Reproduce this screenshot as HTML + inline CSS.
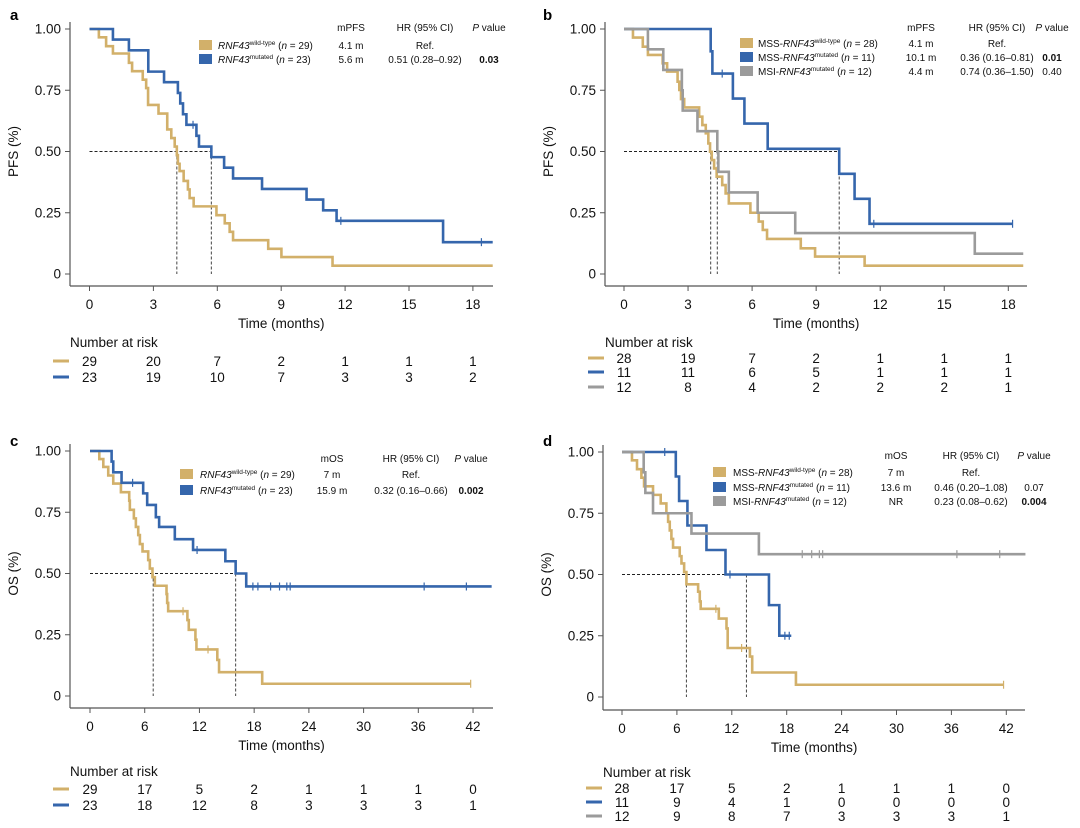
<!DOCTYPE html>
<html><head><meta charset="utf-8"><style>
html,body{margin:0;padding:0;background:#fff;}
svg{display:block;font-family:"Liberation Sans",Arial,sans-serif;}
.tk{font-size:13.5px;fill:#111;}
.lg{font-size:10px;fill:#111;}
</style></head><body>
<svg id="fig" width="1080" height="828" viewBox="0 0 1080 828" xmlns="http://www.w3.org/2000/svg">
<text x="10" y="20" font-size="15" font-weight="bold">a</text>
<text x="543" y="20" font-size="15" font-weight="bold">b</text>
<text x="10" y="446" font-size="15" font-weight="bold">c</text>
<text x="543" y="446" font-size="15" font-weight="bold">d</text>

<g class="lg">
<text x="351" y="31" text-anchor="middle">mPFS</text>
<text x="425" y="31" text-anchor="middle">HR (95% CI)</text>
<text x="489" y="31" text-anchor="middle"><tspan font-style="italic">P</tspan> value</text>
<rect x="199" y="40" width="13" height="10" fill="#D2B06A"/>
<text x="218" y="49"><tspan font-style="italic">RNF43</tspan><tspan font-size="6.5" dy="-4">wild-type</tspan><tspan dy="4"> (</tspan><tspan font-style="italic">n</tspan> = 29)</text>
<text x="351" y="49" text-anchor="middle">4.1 m</text>
<text x="425" y="49" text-anchor="middle">Ref.</text>
<rect x="199" y="54" width="13" height="10" fill="#3566AC"/>
<text x="218" y="63"><tspan font-style="italic">RNF43</tspan><tspan font-size="6.5" dy="-4">mutated</tspan><tspan dy="4"> (</tspan><tspan font-style="italic">n</tspan> = 23)</text>
<text x="351" y="63" text-anchor="middle">5.6 m</text>
<text x="425" y="63" text-anchor="middle">0.51 (0.28–0.92)</text>
<text x="489" y="63" text-anchor="middle" font-weight="bold">0.03</text>
</g>

<g class="lg">
<text x="921" y="31" text-anchor="middle">mPFS</text>
<text x="997" y="31" text-anchor="middle">HR (95% CI)</text>
<text x="1052" y="31" text-anchor="middle"><tspan font-style="italic">P</tspan> value</text>
<rect x="740" y="38" width="13" height="10" fill="#D2B06A"/>
<text x="758" y="47">MSS-<tspan font-style="italic">RNF43</tspan><tspan font-size="6.5" dy="-4">wild-type</tspan><tspan dy="4"> (</tspan><tspan font-style="italic">n</tspan> = 28)</text>
<text x="921" y="47" text-anchor="middle">4.1 m</text>
<text x="997" y="47" text-anchor="middle">Ref.</text>
<rect x="740" y="52" width="13" height="10" fill="#3566AC"/>
<text x="758" y="61">MSS-<tspan font-style="italic">RNF43</tspan><tspan font-size="6.5" dy="-4">mutated</tspan><tspan dy="4"> (</tspan><tspan font-style="italic">n</tspan> = 11)</text>
<text x="921" y="61" text-anchor="middle">10.1 m</text>
<text x="997" y="61" text-anchor="middle">0.36 (0.16–0.81)</text>
<text x="1052" y="61" text-anchor="middle" font-weight="bold">0.01</text>
<rect x="740" y="66" width="13" height="10" fill="#9B9B9B"/>
<text x="758" y="75">MSI-<tspan font-style="italic">RNF43</tspan><tspan font-size="6.5" dy="-4">mutated</tspan><tspan dy="4"> (</tspan><tspan font-style="italic">n</tspan> = 12)</text>
<text x="921" y="75" text-anchor="middle">4.4 m</text>
<text x="997" y="75" text-anchor="middle">0.74 (0.36–1.50)</text>
<text x="1052" y="75" text-anchor="middle">0.40</text>
</g>

<g class="lg">
<text x="332" y="462" text-anchor="middle">mOS</text>
<text x="411" y="462" text-anchor="middle">HR (95% CI)</text>
<text x="471" y="462" text-anchor="middle"><tspan font-style="italic">P</tspan> value</text>
<rect x="180" y="469" width="13" height="10" fill="#D2B06A"/>
<text x="200" y="478"><tspan font-style="italic">RNF43</tspan><tspan font-size="6.5" dy="-4">wild-type</tspan><tspan dy="4"> (</tspan><tspan font-style="italic">n</tspan> = 29)</text>
<text x="332" y="478" text-anchor="middle">7 m</text>
<text x="411" y="478" text-anchor="middle">Ref.</text>
<rect x="180" y="485" width="13" height="10" fill="#3566AC"/>
<text x="200" y="494"><tspan font-style="italic">RNF43</tspan><tspan font-size="6.5" dy="-4">mutated</tspan><tspan dy="4"> (</tspan><tspan font-style="italic">n</tspan> = 23)</text>
<text x="332" y="494" text-anchor="middle">15.9 m</text>
<text x="411" y="494" text-anchor="middle">0.32 (0.16–0.66)</text>
<text x="471" y="494" text-anchor="middle" font-weight="bold">0.002</text>
</g>

<g class="lg">
<text x="896" y="459" text-anchor="middle">mOS</text>
<text x="971" y="459" text-anchor="middle">HR (95% CI)</text>
<text x="1034" y="459" text-anchor="middle"><tspan font-style="italic">P</tspan> value</text>
<rect x="713" y="467" width="13" height="10" fill="#D2B06A"/>
<text x="733" y="476">MSS-<tspan font-style="italic">RNF43</tspan><tspan font-size="6.5" dy="-4">wild-type</tspan><tspan dy="4"> (</tspan><tspan font-style="italic">n</tspan> = 28)</text>
<text x="896" y="476" text-anchor="middle">7 m</text>
<text x="971" y="476" text-anchor="middle">Ref.</text>
<rect x="713" y="482" width="13" height="10" fill="#3566AC"/>
<text x="733" y="491">MSS-<tspan font-style="italic">RNF43</tspan><tspan font-size="6.5" dy="-4">mutated</tspan><tspan dy="4"> (</tspan><tspan font-style="italic">n</tspan> = 11)</text>
<text x="896" y="491" text-anchor="middle">13.6 m</text>
<text x="971" y="491" text-anchor="middle">0.46 (0.20–1.08)</text>
<text x="1034" y="491" text-anchor="middle">0.07</text>
<rect x="713" y="496" width="13" height="10" fill="#9B9B9B"/>
<text x="733" y="505">MSI-<tspan font-style="italic">RNF43</tspan><tspan font-size="6.5" dy="-4">mutated</tspan><tspan dy="4"> (</tspan><tspan font-style="italic">n</tspan> = 12)</text>
<text x="896" y="505" text-anchor="middle">NR</text>
<text x="971" y="505" text-anchor="middle">0.23 (0.08–0.62)</text>
<text x="1034" y="505" text-anchor="middle" font-weight="bold">0.004</text>
</g>
</svg>
<script>
const GOLD="#D2B06A", BLUE="#3566AC", GRAY="#9B9B9B";
const aWtTimes=[0.44,0.78,1.10,1.85,2.0,2.5,2.66,2.75,3.24,3.65,3.84,4.0,4.1,4.15,4.23,4.42,4.62,4.70,4.89,5.96,6.35,6.58,6.74,8.39,9.01,11.41];
const aWtSurv =[0.966,0.93,0.90,0.862,0.828,0.793,0.759,0.69,0.655,0.59,0.555,0.52,0.485,0.45,0.42,0.38,0.345,0.31,0.276,0.24,0.207,0.172,0.138,0.103,0.069,0.034];
const aWtCens=[]; const aWtEnd=18.93;
const aMuTimes=[1.10,1.85,2.76,3.5,4.15,4.26,4.39,4.55,5.02,5.14,5.72,6.32,6.74,8.1,10.19,10.97,11.6,16.6];
const aMuSurv =[0.957,0.913,0.826,0.783,0.739,0.696,0.652,0.609,0.564,0.52,0.477,0.434,0.39,0.347,0.304,0.26,0.217,0.13];
const aMuCens=[4.86,11.8,18.4]; const aMuEnd=18.93;
const bWtTimes=[0.42,0.88,1.12,1.81,2.02,2.51,2.59,2.67,2.82,3.52,3.67,3.83,3.95,4.03,4.11,4.22,4.34,4.60,4.76,4.91,5.92,6.31,6.50,6.70,8.28,8.95,11.27];
const bWtSurv =[0.965,0.928,0.894,0.86,0.826,0.785,0.751,0.714,0.68,0.642,0.608,0.574,0.533,0.499,0.465,0.431,0.397,0.363,0.329,0.288,0.25,0.214,0.18,0.143,0.105,0.071,0.034];
const bWtCens=[]; const bWtEnd=18.7;
const bMuTimes=[4.06,4.14,5.1,5.64,6.73,10.08,10.8,11.5];
const bMuSurv =[0.909,0.818,0.716,0.614,0.511,0.409,0.307,0.205];
const bMuCens=[4.6,11.7,18.2]; const bMuEnd=18.2;
const bMsTimes=[1.12,1.84,2.71,2.75,3.44,4.37,4.42,4.91,6.26,8.02,16.43];
const bMsSurv =[0.917,0.833,0.75,0.667,0.583,0.5,0.417,0.333,0.25,0.167,0.083];
const bMsCens=[]; const bMsEnd=18.7;
const cWtTimes=[1.02,1.46,2.0,2.55,3.39,4.3,4.37,4.81,5.03,5.29,5.47,5.76,6.38,6.56,6.85,7.11,8.39,8.46,8.57,10.68,10.83,11.56,11.67,13.96,14.15,18.88];
const cWtSurv =[0.967,0.935,0.90,0.867,0.832,0.797,0.76,0.725,0.69,0.657,0.62,0.59,0.555,0.52,0.485,0.45,0.416,0.38,0.346,0.31,0.27,0.23,0.19,0.147,0.097,0.05];
const cWtCens=[10.2,12.94,41.74]; const cWtEnd=41.74;
const cMuTimes=[2.37,2.55,3.46,5.83,6.27,7.22,7.58,9.3,11.3,14.84,15.97,17.13];
const cMuSurv =[0.957,0.913,0.87,0.827,0.78,0.73,0.69,0.64,0.596,0.55,0.5,0.447];
const cMuCens=[4.67,11.74,17.86,18.41,19.8,20.78,21.58,21.95,36.64,41.27]; const cMuEnd=44.04;
const dWtTimes=[1.09,1.64,2.12,2.41,3.39,4.23,4.85,5.04,5.22,5.40,5.58,6.31,6.50,6.79,7.04,8.32,8.50,8.60,10.58,11.42,11.55,13.98,14.23,19.01];
const dWtSurv =[0.966,0.93,0.895,0.86,0.825,0.79,0.75,0.715,0.68,0.645,0.61,0.575,0.545,0.51,0.46,0.43,0.39,0.36,0.32,0.28,0.2,0.165,0.1,0.05];
const dWtCens=[10.26,13.07,41.7]; const dWtEnd=41.7;
const dMuTimes=[5.88,6.24,7.15,9.23,11.31,16.06,17.19];
const dMuSurv =[0.9,0.8,0.7,0.6,0.5,0.375,0.25];
const dMuCens=[4.67,11.8,17.8,18.28]; const dMuEnd=18.5;
const dMsTimes=[2.37,2.55,3.39,7.59,14.96];
const dMsSurv =[0.917,0.833,0.75,0.667,0.583];
const dMsCens=[19.7,20.73,21.57,21.93,36.6,41.28]; const dMsEnd=44.09;
const aRiskWt=[29,20,7,2,1,1,1], aRiskMu=[23,19,10,7,3,3,2];
const bRiskWt=[28,19,7,2,1,1,1], bRiskMu=[11,11,6,5,1,1,1], bRiskMs=[12,8,4,2,2,2,1];
const cRiskWt=[29,17,5,2,1,1,1,0], cRiskMu=[23,18,12,8,3,3,3,1];
const dRiskWt=[28,17,5,2,1,1,1,0], dRiskMu=[11,9,4,1,0,0,0,0], dRiskMs=[12,9,8,7,3,3,3,1];
const pfsTicks=[0,3,6,9,12,15,18], osTicks=[0,6,12,18,24,30,36,42];
const yTicks=[1,0.75,0.5,0.25,0], yTickLabels=["1.00","0.75","0.50","0.25","0"];
const aMedians=[4.1,5.72], bMedians=[4.06,4.37,10.08], cMedians=[6.93,15.97], dMedians=[7.04,13.6];

const svg=document.getElementById('fig');
const NS="http://www.w3.org/2000/svg";
function mk(tag,attrs,parent){const e=document.createElementNS(NS,tag);for(const k in attrs)e.setAttribute(k,attrs[k]);(parent||svg).appendChild(e);return e;}

function panel(P){
  const X=t=>P.x0+t*P.kx, Y=s=>P.y0-s*P.ky;
  const g=mk('g',{});
  
  
  const ya=mk('line',{x1:P.ax,y1:P.y0-P.ky-7,x2:P.ax,y2:P.axY,stroke:'#555','stroke-width':1.2},g);
  
  
  const xa=mk('line',{x1:P.ax,y1:P.axY,x2:P.xr,y2:P.axY,stroke:'#555','stroke-width':1.2},g);
  
  
  yTicks.forEach((v,i)=>{
    mk('line',{x1:P.ax-5,x2:P.ax,y1:Y(v),y2:Y(v),stroke:'#555','stroke-width':1},g);
    const t=mk('text',{x:P.ax-9,y:Y(v)+4.5,'text-anchor':'end',class:'tk'},g);
    t.textContent=yTickLabels[i];
    
    
  });
  P.ticks.forEach(v=>{
    mk('line',{x1:X(v),x2:X(v),y1:P.axY,y2:P.axY+5,stroke:'#555','stroke-width':1},g);
    const t=mk('text',{x:X(v),y:P.axY+23,'text-anchor':'middle',class:'tk'},g);
    t.textContent=v;
    
    
  });
  const yt=mk('text',{x:0,y:0,transform:`translate(${P.ax-52},${Y(0.5)}) rotate(-90)`,'text-anchor':'middle',class:'tk'},g);
  yt.textContent=P.ylab;
  
  
  const xt=mk('text',{x:(X(0)+X(P.ticks[P.ticks.length-1]))/2,y:P.axY+42,'text-anchor':'middle',class:'tk'},g);
  xt.textContent='Time (months)';
  
  
  const maxMed=Math.max(...P.medians);
  const hl=mk('line',{x1:X(0),x2:X(maxMed),y1:Y(0.5),y2:Y(0.5),stroke:'#222','stroke-width':1,'stroke-dasharray':'3,2'},g);
  
  
  P.medians.forEach(m=>{
    const vl=mk('line',{x1:X(m),x2:X(m),y1:Y(0.5),y2:Y(0),stroke:'#444','stroke-width':1,'stroke-dasharray':'3,2'},g);
    
    
  });
  P.series.forEach(s=>{
    let d=`M${X(0)},${Y(1)}`;
    s.t.forEach((t,i)=>{d+=` H${X(t)} V${Y(s.s[i])}`;});
    d+=` H${X(s.end)}`;
    const p=mk('path',{d:d,fill:'none',stroke:s.c,'stroke-width':2.6},g);
    
    
    const surv=t=>{let v=1;s.t.forEach((tt,i)=>{if(tt<=t)v=s.s[i];});return v;};
    s.cens.forEach(ct=>{
      const m=mk('line',{x1:X(ct),x2:X(ct),y1:Y(surv(ct))-4,y2:Y(surv(ct))+4,stroke:s.c,'stroke-width':1.2},g);
      
      
    });
  });
  const h=mk('text',{x:P.ax,y:P.riskHead+5,class:'tk'},g);
  h.textContent='Number at risk';
  
  
  P.series.forEach((s,r)=>{
    const ry=P.riskRows[r];
    const ln=mk('line',{x1:P.ax-17,x2:P.ax-1,y1:ry,y2:ry,stroke:s.c,'stroke-width':3},g);
    
    
    s.risk.forEach((n,i)=>{
      const t=mk('text',{x:X(P.ticks[i]),y:ry+5,'text-anchor':'middle',class:'tk'},g);
      t.textContent=n;
      
      
    });
  });
}

panel({name:'panel-a',x0:89.5,kx:21.3,y0:274,ky:245,ax:70,axY:286,xr:493,ticks:pfsTicks,ylab:'PFS (%)',medians:aMedians,
  riskHead:342,riskRows:[361,377],
  series:[{name:'wild-type',c:GOLD,t:aWtTimes,s:aWtSurv,cens:aWtCens,end:aWtEnd,risk:aRiskWt},
          {name:'mutated',c:BLUE,t:aMuTimes,s:aMuSurv,cens:aMuCens,end:aMuEnd,risk:aRiskMu}]});
panel({name:'panel-b',x0:624,kx:21.35,y0:274,ky:245,ax:605,axY:286,xr:1027,ticks:pfsTicks,ylab:'PFS (%)',medians:bMedians,
  riskHead:342,riskRows:[358,372,387],
  series:[{name:'mss-wild-type',c:GOLD,t:bWtTimes,s:bWtSurv,cens:bWtCens,end:bWtEnd,risk:bRiskWt},
          {name:'mss-mutated',c:BLUE,t:bMuTimes,s:bMuSurv,cens:bMuCens,end:bMuEnd,risk:bRiskMu},
          {name:'msi-mutated',c:GRAY,t:bMsTimes,s:bMsSurv,cens:bMsCens,end:bMsEnd,risk:bRiskMs}]});
panel({name:'panel-c',x0:90,kx:9.12,y0:696,ky:245,ax:70,axY:708,xr:493,ticks:osTicks,ylab:'OS (%)',medians:cMedians,
  riskHead:771,riskRows:[789,805],
  series:[{name:'wild-type-os',c:GOLD,t:cWtTimes,s:cWtSurv,cens:cWtCens,end:cWtEnd,risk:cRiskWt},
          {name:'mutated-os',c:BLUE,t:cMuTimes,s:cMuSurv,cens:cMuCens,end:cMuEnd,risk:cRiskMu}]});
panel({name:'panel-d',x0:622,kx:9.15,y0:697,ky:245,ax:603,axY:710,xr:1025,ticks:osTicks,ylab:'OS (%)',medians:dMedians,
  riskHead:772,riskRows:[788,802,816],
  series:[{name:'mss-wild-type-os',c:GOLD,t:dWtTimes,s:dWtSurv,cens:dWtCens,end:dWtEnd,risk:dRiskWt},
          {name:'mss-mutated-os',c:BLUE,t:dMuTimes,s:dMuSurv,cens:dMuCens,end:dMuEnd,risk:dRiskMu},
          {name:'msi-mutated-os',c:GRAY,t:dMsTimes,s:dMsSurv,cens:dMsCens,end:dMsEnd,risk:dRiskMs}]});
</script>
</body></html>
